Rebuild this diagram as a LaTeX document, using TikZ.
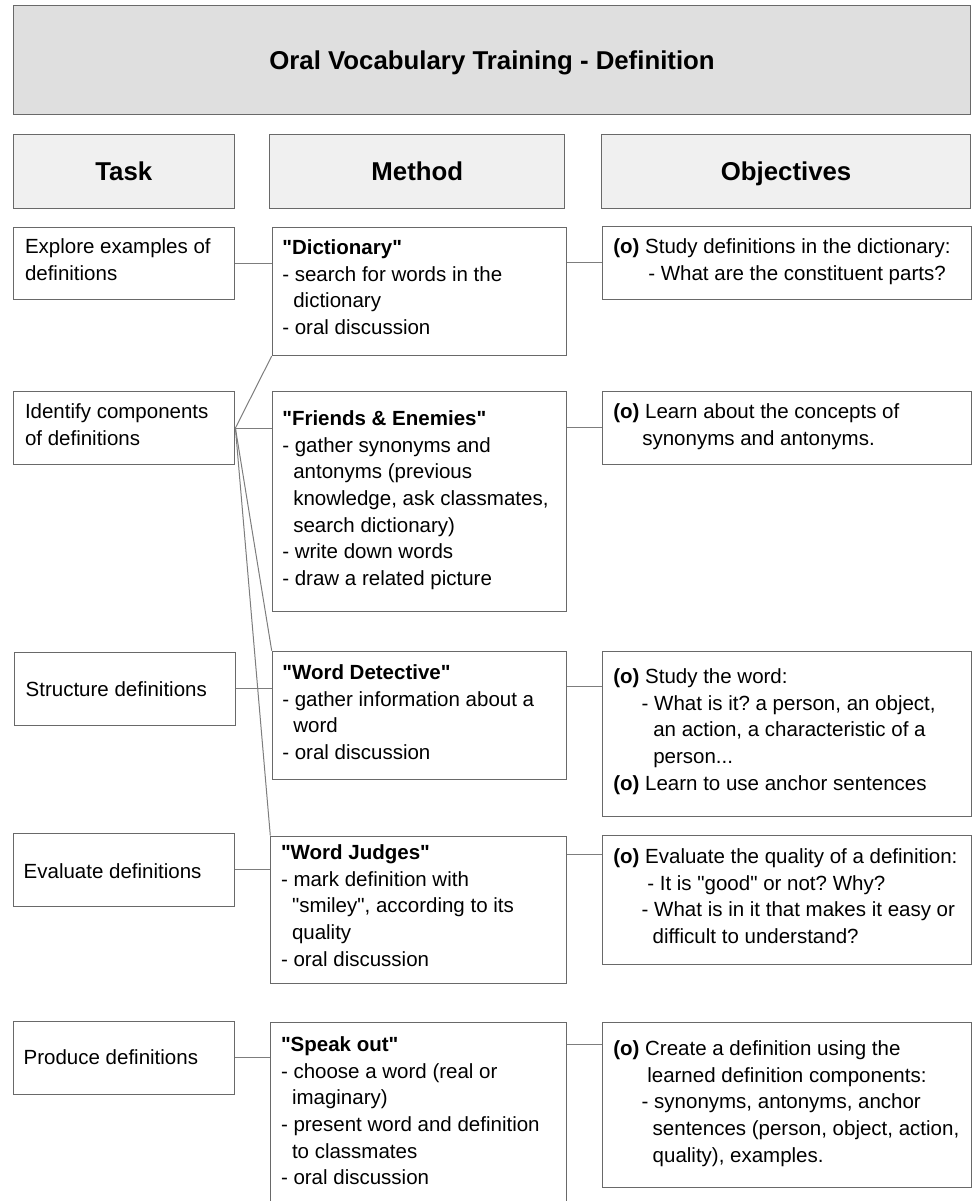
\documentclass[tikz,border=0pt]{standalone}
\usepackage{fontspec}
\setmainfont{Liberation Sans}[Ligatures=TeXOff]
\frenchspacing
\definecolor{bordergray}{RGB}{105,105,105}
\definecolor{linegray}{RGB}{125,125,125}
\definecolor{titlefill}{RGB}{223,223,223}
\definecolor{headfill}{RGB}{240,240,240}
\tikzset{
  box/.style={draw=bordergray, line width=1.1pt, fill=white, rectangle, inner sep=0pt, anchor=north west},
  titlebox/.style={box, fill=titlefill, font=\fontsize{25.8}{30}\selectfont\bfseries, text height=18.4pt, text depth=0pt},
  headbox/.style={box, fill=headfill, font=\fontsize{25.8}{30}\selectfont\bfseries, text height=18.4pt, text depth=0pt},
  conn/.style={draw=linegray, line width=1pt},
  txt/.style={inner sep=0pt, outer sep=0pt, anchor=north west, align=left, yshift=15.2pt,
    font=\fontsize{20.5}{26.65}\selectfont\frenchspacing, execute at begin node={\strut}},
}
\begin{document}
\begin{tikzpicture}[x=1pt, y=-1pt]
\useasboundingbox (0,0) rectangle (972,1201);
\clip (0,0) rectangle (972,1201);

% title and headers
\node[titlebox, minimum width=957pt, minimum height=109.3pt] (title) at (13,5) {Oral Vocabulary Training - Definition};
\node[headbox, minimum width=220.5pt, minimum height=73.2pt] (htask) at (13,134.3) {Task};
\node[headbox, minimum width=295pt, minimum height=73.2pt] (hmethod) at (269.3,134.3) {Method};
\node[headbox, minimum width=369pt, minimum height=73.2pt] (hobj) at (601,134.3) {Objectives};

% task boxes
\node[box, minimum width=221pt, minimum height=72.8pt] (explore) at (13.3,226.5) {};
\node[box, minimum width=221pt, minimum height=73pt] (identify) at (13.3,391) {};
\node[box, minimum width=220.7pt, minimum height=73.3pt] (structure) at (14.3,651.7) {};
\node[box, minimum width=221.2pt, minimum height=73.3pt] (evaluate) at (12.5,832.7) {};
\node[box, minimum width=221.2pt, minimum height=73.3pt] (produce) at (12.5,1020.5) {};

% method boxes
\node[box, minimum width=294.3pt, minimum height=128.3pt] (dict) at (271.7,226.7) {};
\node[box, minimum width=294.3pt, minimum height=220pt] (friends) at (271.7,391) {};
\node[box, minimum width=294.3pt, minimum height=128.3pt] (detective) at (271.7,650.7) {};
\node[box, minimum width=295.4pt, minimum height=147.2pt] (judges) at (270.3,835.5) {};
\node[box, minimum width=295.4pt, minimum height=200pt] (speak) at (270.3,1021.7) {};

% objective boxes
\node[box, minimum width=368.4pt, minimum height=73pt] (o1) at (602.3,226.3) {};
\node[box, minimum width=368.4pt, minimum height=73.6pt] (o2) at (602.3,390.7) {};
\node[box, minimum width=368.4pt, minimum height=165pt] (o3) at (602.3,650.7) {};
\node[box, minimum width=368.4pt, minimum height=128.7pt] (o4) at (602.3,835.3) {};
\node[box, minimum width=368.4pt, minimum height=165.6pt] (o5) at (602.3,1021.7) {};

% task texts
\node[txt] (t-explore) at (25,254) {Explore examples of\\definitions};
\node[txt] (t-identify) at (25,419) {Identify components\\of definitions};
\node[txt] (t-structure) at (25.7,693.3) {Structure definitions};
\node[txt] (t-evaluate) at (23.7,875) {Evaluate definitions};
\node[txt] (t-produce) at (23.7,1061) {Produce definitions};

% method texts
\node[txt] (t-dict) at (282.3,255) {\textbf{"Dictionary"}\\
- search for words in the\\
\hspace*{11pt}dictionary\\
- oral discussion};
\node[txt] (t-friends) at (282.3,426) {\textbf{"Friends \& Enemies"}\\
- gather synonyms and\\
\hspace*{11pt}antonyms (previous\\
\hspace*{11pt}knowledge, ask classmates,\\
\hspace*{11pt}search dictionary)\\
- write down words\\
- draw a related picture};
\node[txt] (t-detective) at (282.3,680) {\textbf{"Word Detective"}\\
- gather information about a\\
\hspace*{11pt}word\\
- oral discussion};
\node[txt] (t-judges) at (281,860) {\textbf{"Word Judges"}\\
- mark definition with\\
\hspace*{11pt}"smiley", according to its\\
\hspace*{11pt}quality\\
- oral discussion};
\node[txt] (t-speak) at (281,1052) {\textbf{"Speak out"}\\
- choose a word (real or\\
\hspace*{11pt}imaginary)\\
- present word and definition\\
\hspace*{11pt}to classmates\\
- oral discussion};

% objective texts
\node[txt] (t-o1) at (613.3,254.3) {\textbf{(o)} Study definitions in the dictionary:\\
\hspace*{35pt}- What are the constituent parts?};
\node[txt] (t-o2) at (613.3,419) {\textbf{(o)} Learn about the concepts of\\
\hspace*{29pt}synonyms and antonyms.};
\node[txt] (t-o3) at (613.3,684) {\textbf{(o)} Study the word:\\
\hspace*{28.4pt}- What is it? a person, an object,\\
\hspace*{40pt}an action, a characteristic of a\\
\hspace*{40pt}person...\\
\textbf{(o)} Learn to use anchor sentences};
\node[txt] (t-o4) at (613.3,864) {\textbf{(o)} Evaluate the quality of a definition:\\
\hspace*{34pt}- It is "good" or not? Why?\\
\hspace*{28.4pt}- What is in it that makes it easy or\\
\hspace*{39.4pt}difficult to understand?};
\node[txt] (t-o5) at (613.3,1056) {\textbf{(o)} Create a definition using the\\
\hspace*{34pt}learned definition components:\\
\hspace*{28.4pt}- synonyms, antonyms, anchor\\
\hspace*{39.4pt}sentences (person, object, action,\\
\hspace*{39.4pt}quality), examples.};

% connectors task -> method
\draw[conn] (explore.east) -- (explore.east -| dict.west);
\draw[conn] (identify.east) -- (identify.east -| friends.west);
\draw[conn] (identify.east) -- (dict.south west);
\draw[conn] (identify.east) -- (detective.north west);
\draw[conn] (identify.east) -- (judges.north west);
\draw[conn] (structure.east) -- (structure.east -| detective.west);
\draw[conn] (evaluate.east) -- (evaluate.east -| judges.west);
\draw[conn] (produce.east) -- (produce.east -| speak.west);

% connectors method -> objectives
\coordinate (c1) at (0,262.7);
\coordinate (c2) at (0,427.8);
\coordinate (c3) at (0,686);
\coordinate (c4) at (0,854);
\coordinate (c5) at (0,1044.5);
\draw[conn] (dict.east |- c1) -- (o1.west |- c1);
\draw[conn] (friends.east |- c2) -- (o2.west |- c2);
\draw[conn] (detective.east |- c3) -- (o3.west |- c3);
\draw[conn] (judges.east |- c4) -- (o4.west |- c4);
\draw[conn] (speak.east |- c5) -- (o5.west |- c5);
\end{tikzpicture}
\end{document}
